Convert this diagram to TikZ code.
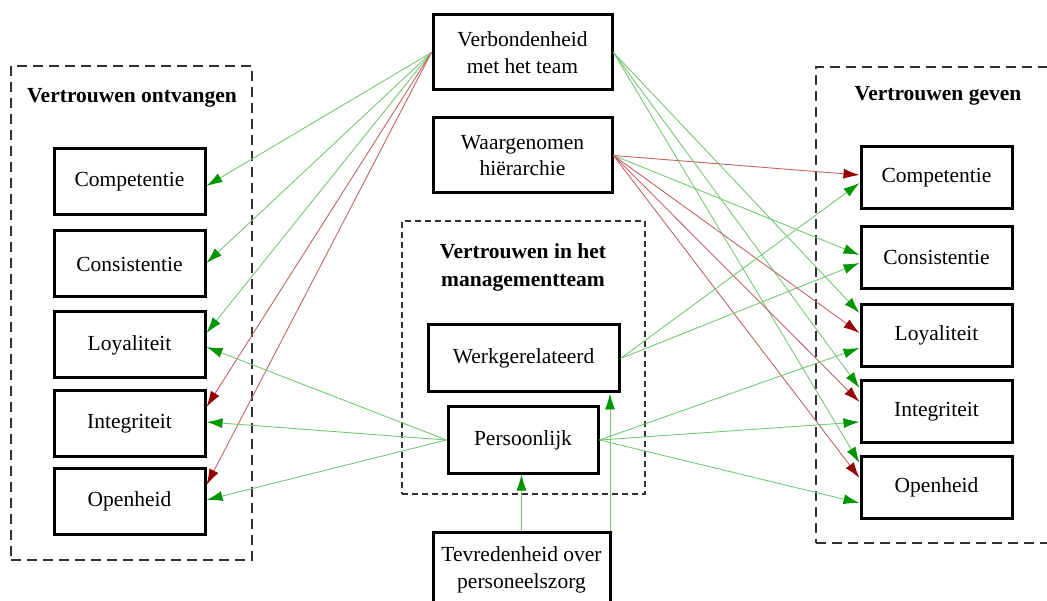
\documentclass[tikz,border=0pt]{standalone}
\usepackage{fontspec}
\setmainfont{Liberation Serif}
\usetikzlibrary{arrows.meta}
\definecolor{gline}{RGB}{118,200,118}
\definecolor{ghead}{RGB}{0,150,0}
\definecolor{rline}{RGB}{196,100,100}
\definecolor{rhead}{RGB}{150,0,0}
\definecolor{dashgray}{RGB}{50,50,50}
\tikzset{
  box/.style={draw=black, line width=3pt, fill=white, align=center, inner sep=0pt,
    font=\fontsize{21.5}{26.5}\selectfont},
  group/.style={draw=dashgray, line width=2pt, dash pattern=on 10pt off 6pt, inner sep=0pt},
  subgroup/.style={draw=dashgray, line width=1.4pt, dash pattern=on 6pt off 4pt, inner sep=0pt},
  heading/.style={font=\bfseries\fontsize{21.5}{28}\selectfont, align=center, inner sep=0pt},
  posarrow/.style={draw=gline, line width=0.9pt, -{Latex[length=16pt,width=10pt,color=ghead]}},
  negarrow/.style={draw=rline, line width=0.9pt, -{Latex[length=16pt,width=10pt,color=rhead]}},
}
\begin{document}
\begin{tikzpicture}[x=1pt, y=-1pt]
\useasboundingbox (0,0) rectangle (1047,601);
\clip (0,0) rectangle (1047,601);

% group frames
\node[group, minimum width=241pt, minimum height=494pt] (gleft) at (131.5,313) {};
\node[group, minimum width=254pt, minimum height=476pt] (gright) at (943,305) {};
\node[subgroup, minimum width=243pt, minimum height=273pt] (gmid) at (523.5,357.5) {};

\node[heading] (tleft) at (132,98) {Vertrouwen ontvangen};
\node[heading] (tright) at (938,96) {Vertrouwen geven};
\node[heading] (tmid) at (523,267) {Vertrouwen in het\\managementteam};

% received trust
\node[box, minimum width=151pt, minimum height=66pt] (l1) at (129.5,182) {Competentie};
\node[box, minimum width=151pt, minimum height=66pt] (l2) at (129.5,264) {Consistentie};
\node[box, minimum width=151pt, minimum height=66pt] (l3) at (129.5,345) {Loyaliteit};
\node[box, minimum width=151pt, minimum height=66pt] (l4) at (129.5,423.5) {Integriteit};
\node[box, minimum width=151pt, minimum height=66pt] (l5) at (129.5,501.5) {Openheid};

% given trust
\node[box, minimum width=151pt, minimum height=62pt] (r1) at (936.5,178) {Competentie};
\node[box, minimum width=151pt, minimum height=62pt] (r2) at (936.5,257.5) {Consistentie};
\node[box, minimum width=151pt, minimum height=62pt] (r3) at (936.5,335.5) {Loyaliteit};
\node[box, minimum width=151pt, minimum height=62pt] (r4) at (936.5,411.5) {Integriteit};
\node[box, minimum width=151pt, minimum height=62pt] (r5) at (936.5,487) {Openheid};

% central factors
\node[box, minimum width=179pt, minimum height=75pt] (verb) at (522.5,52.5) {Verbondenheid\\met het team};
\node[box, minimum width=179pt, minimum height=75pt] (hier) at (522.5,155.5) {Waargenomen\\hiërarchie};
\node[box, minimum width=191pt, minimum height=67pt] (werk) at (523.5,358.5) {Werkgerelateerd};
\node[box, minimum width=150pt, minimum height=66pt] (pers) at (523,440) {Persoonlijk};
\node[box, minimum width=177pt, minimum height=76pt] (tevr) at (521.5,570) {Tevredenheid over\\personeelszorg};

% connectedness with the team
\draw[posarrow] (verb.west) -- ([yshift=-4pt]l1.east);
\draw[posarrow] (verb.west) -- ([yshift=1pt]l2.east);
\draw[posarrow] (verb.west) -- ([yshift=12pt]l3.east);
\draw[negarrow] (verb.west) -- ([yshift=16.5pt]l4.east);
\draw[negarrow] (verb.west) -- ([yshift=16.5pt]l5.east);
\draw[posarrow] (verb.east) -- ([yshift=22.5pt]r3.west);
\draw[posarrow] (verb.east) -- ([yshift=23.5pt]r4.west);
\draw[posarrow] (verb.east) -- ([yshift=24pt]r5.west);

% perceived hierarchy
\draw[negarrow] (hier.east) -- ([yshift=3pt]r1.west);
\draw[posarrow] (hier.east) -- ([yshift=2.5pt]r2.west);
\draw[negarrow] (hier.east) -- ([yshift=2.5pt]r3.west);
\draw[negarrow] (hier.east) -- ([yshift=9.5pt]r4.west);
\draw[negarrow] (hier.east) -- ([yshift=9pt]r5.west);

% work-related trust in management
\draw[posarrow] (werk.east) -- ([yshift=-5pt]r1.west);
\draw[posarrow] (werk.east) -- ([yshift=-5.5pt]r2.west);

% personal trust in management
\draw[posarrow] (pers.west) -- ([yshift=-2pt]l3.east);
\draw[posarrow] (pers.west) -- ([yshift=1.5pt]l4.east);
\draw[posarrow] (pers.west) -- ([yshift=1.5pt]l5.east);
\draw[posarrow] (pers.east) -- ([yshift=-12.5pt]r3.west);
\draw[posarrow] (pers.east) -- ([yshift=-10.5pt]r4.west);
\draw[posarrow] (pers.east) -- ([yshift=-16pt]r5.west);

% satisfaction with personnel care
\draw[posarrow] (tevr.north) -- (tevr.north |- pers.south);
\coordinate (tevrne) at ([xshift=-1.5pt]tevr.north east);
\draw[posarrow] (tevrne) -- (tevrne |- werk.south);
\end{tikzpicture}
\end{document}
